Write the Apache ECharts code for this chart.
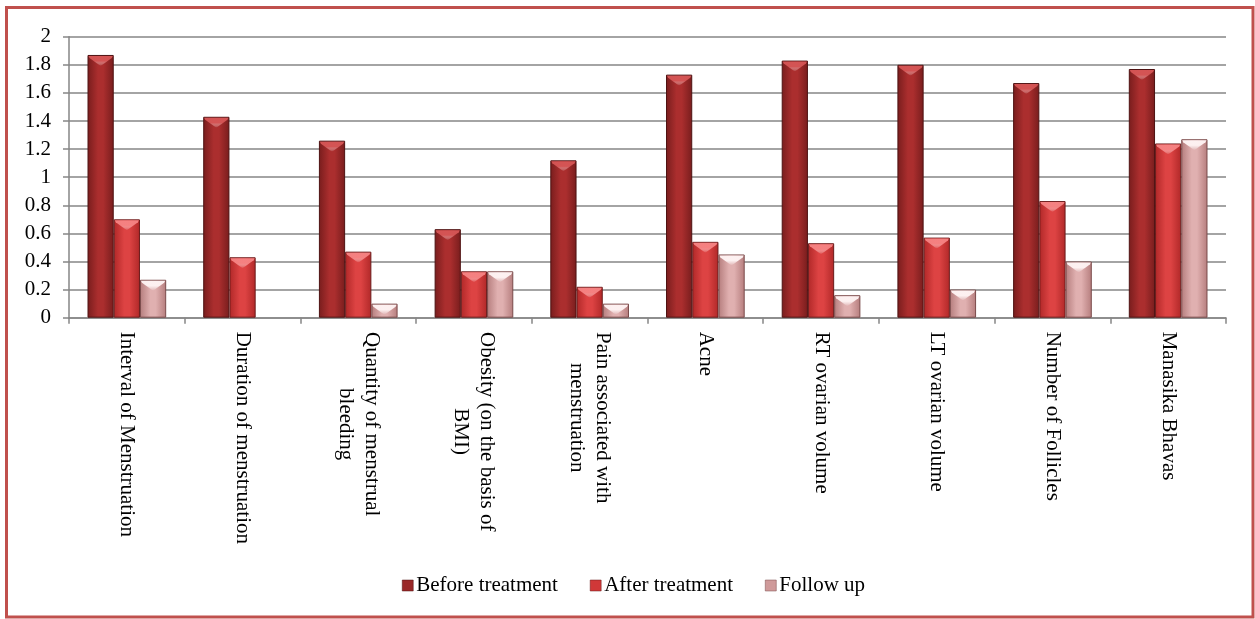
<!DOCTYPE html>
<html>
<head>
<meta charset="utf-8">
<title>Parameters before treatment, after treatment and at follow up</title>
<script src="https://cdn.jsdelivr.net/npm/echarts@6/dist/echarts.min.js"></script>
<style>
  html, body { margin: 0; padding: 0; background: #ffffff; }
  #chart { width: 1255px; height: 619px; }
</style>
</head>
<body>
<div id="chart"></div>
<script>
// Assessment parameters (x axis); "\n" marks a line break in the label
const categories = [
  'Interval of Menstruation',
  'Duration of menstruation',
  'Quantity of menstrual\nbleeding',
  'Obesity (on the basis of\nBMI)',
  'Pain associated with\nmenstruation',
  'Acne',
  'RT ovarian volume',
  'LT ovarian volume',
  'Number of Follicles',
  'Manasika Bhavas'
];

// Mean scores per group
const beforeTreatment = [1.87, 1.43, 1.26, 0.63, 1.12, 1.73, 1.83, 1.80, 1.67, 1.77];
const afterTreatment  = [0.70, 0.43, 0.47, 0.33, 0.22, 0.54, 0.53, 0.57, 0.83, 1.24];
const followUp        = [0.27, 0,    0.10, 0.33, 0.10, 0.45, 0.16, 0.20, 0.40, 1.27];

const seriesNames = ['Before treatment', 'After treatment', 'Follow up'];

const fontFamily = '"Liberation Serif", "Times New Roman", serif';
const fontSize = 21;
const barCategoryGap = 0.32;

// Measure text so wrapped labels can be centred line by line
const measureCtx = document.createElement('canvas').getContext('2d');
measureCtx.font = fontSize + 'px ' + fontFamily;
function textWidth(s) { return Math.ceil(measureCtx.measureText(s).width); }

const axisCategories = categories.map(c => {
  const lines = c.split('\n');
  if (lines.length === 1) return c;
  const w = Math.max(...lines.map(textWidth));
  return {
    value: c,
    textStyle: {
      rich: { c: { width: w, align: 'center', fontFamily: fontFamily, fontSize: fontSize, color: '#000', lineHeight: 26 } }
    }
  };
});

function shade(edge, mid) {
  return new echarts.graphic.LinearGradient(0, 0, 1, 0, [
    { offset: 0, color: edge },
    { offset: 0.4, color: mid },
    { offset: 0.6, color: mid },
    { offset: 1, color: edge }
  ]);
}

const styles = [
  { fill: shade('#781d1d', '#ab2e2e'), border: '#4e1212', legend: '#9a2828', bevel: '#d65656' },
  { fill: shade('#b02828', '#dd4343'), border: '#6a1a1a', legend: '#d03838', bevel: '#f68484' },
  { fill: shade('#b57d7d', '#e0b0b0'), border: '#7a4a4a', legend: '#cf9a9a', bevel: '#fff4f4' }
];

const seriesData = [beforeTreatment, afterTreatment, followUp];

// Bars; an empty value draws no outline
const barSeries = seriesNames.map((name, i) => ({
  name: name,
  type: 'bar',
  data: seriesData[i].map(v => v === 0 ? { value: v, itemStyle: { borderWidth: 0 } } : v),
  barGap: '0%',
  barCategoryGap: (barCategoryGap * 100) + '%',
  itemStyle: {
    color: styles[i].fill,
    borderColor: styles[i].border,
    borderWidth: 1
  },
  z: 3
}));

// Bevelled cap on the top of each bar
const bevelSeries = seriesNames.map((name, i) => ({
  name: name,
  type: 'custom',
  z: 4,
  silent: true,
  data: seriesData[i].map((v, k) => [k, v]),
  renderItem: function (params, api) {
    const v = api.value(1);
    if (!v) return null;
    const catW = api.size([1, 0])[0];
    const bw = catW * (1 - barCategoryGap) / 3;
    const center = api.coord([api.value(0), v]);
    const x0 = center[0] - 1.5 * bw + i * bw;
    const x1 = x0 + bw;
    const top = center[1];
    const depth = Math.min(bw * 0.42, api.coord([0, 0])[1] - top - 1);
    return {
      type: 'polygon',
      shape: { points: [[x0 + 1, top + 1], [x1 - 1, top + 1], [x1 - 2, top + 3], [(x0 + x1) / 2, top + depth], [x0 + 2, top + 3]] },
      style: {
        fill: new echarts.graphic.LinearGradient(0, 0, 0, 1, [
          { offset: 0, color: styles[i].bevel },
          { offset: 0.5, color: styles[i].bevel },
          { offset: 1, color: 'rgba(255,255,255,0)' }
        ]),
        opacity: 0.95
      }
    };
  }
}));

const chart = echarts.init(document.getElementById('chart'), null, { renderer: 'canvas' });

chart.setOption({
  animation: false,
  backgroundColor: '#ffffff',
  textStyle: { fontFamily: fontFamily },
  graphic: [{
    type: 'rect',
    shape: { x: 6.5, y: 7.5, width: 1246.5, height: 609.5 },
    style: { fill: 'none', stroke: '#c0504d', lineWidth: 3 },
    silent: true,
    z: 10
  }],
  grid: { left: 69, right: 29, top: 36.7, bottom: 301.3, containLabel: false },
  legend: {
    data: seriesNames.map((n, i) => ({ name: n, itemStyle: { color: styles[i].legend, borderColor: styles[i].border, borderWidth: 0.5 } })),
    left: 397,
    top: 570,
    icon: 'rect',
    itemWidth: 11,
    itemHeight: 11,
    itemGap: 32,
    textStyle: { fontFamily: fontFamily, fontSize: fontSize, color: '#000000', padding: [0, 0, 0, -2] }
  },
  xAxis: {
    type: 'category',
    data: axisCategories,
    axisLine: { lineStyle: { color: '#868686', width: 1.5 } },
    axisTick: { show: true, alignWithLabel: false, length: 6, lineStyle: { color: '#868686', width: 1.5 } },
    axisLabel: {
      interval: 0,
      rotate: -90,
      margin: 14,
      fontFamily: fontFamily,
      fontSize: fontSize,
      color: '#000000',
      lineHeight: 26,
      align: 'left',
      verticalAlign: 'middle',
      formatter: function (value) {
        const lines = value.split('\n');
        return lines.length === 1 ? value : lines.map(l => '{c|' + l + '}').join('\n');
      }
    }
  },
  yAxis: {
    type: 'value',
    min: 0,
    max: 2,
    interval: 0.2,
    axisLine: { show: true, lineStyle: { color: '#868686', width: 1.5 } },
    axisTick: { show: true, length: 6, lineStyle: { color: '#868686', width: 1.5 } },
    splitLine: { lineStyle: { color: '#868686', width: 1.5 } },
    axisLabel: {
      margin: 18,
      fontFamily: fontFamily,
      fontSize: fontSize,
      color: '#000000',
      formatter: v => String(Math.round(v * 10) / 10)
    }
  },
  series: barSeries.concat(bevelSeries)
});
</script>
</body>
</html>
